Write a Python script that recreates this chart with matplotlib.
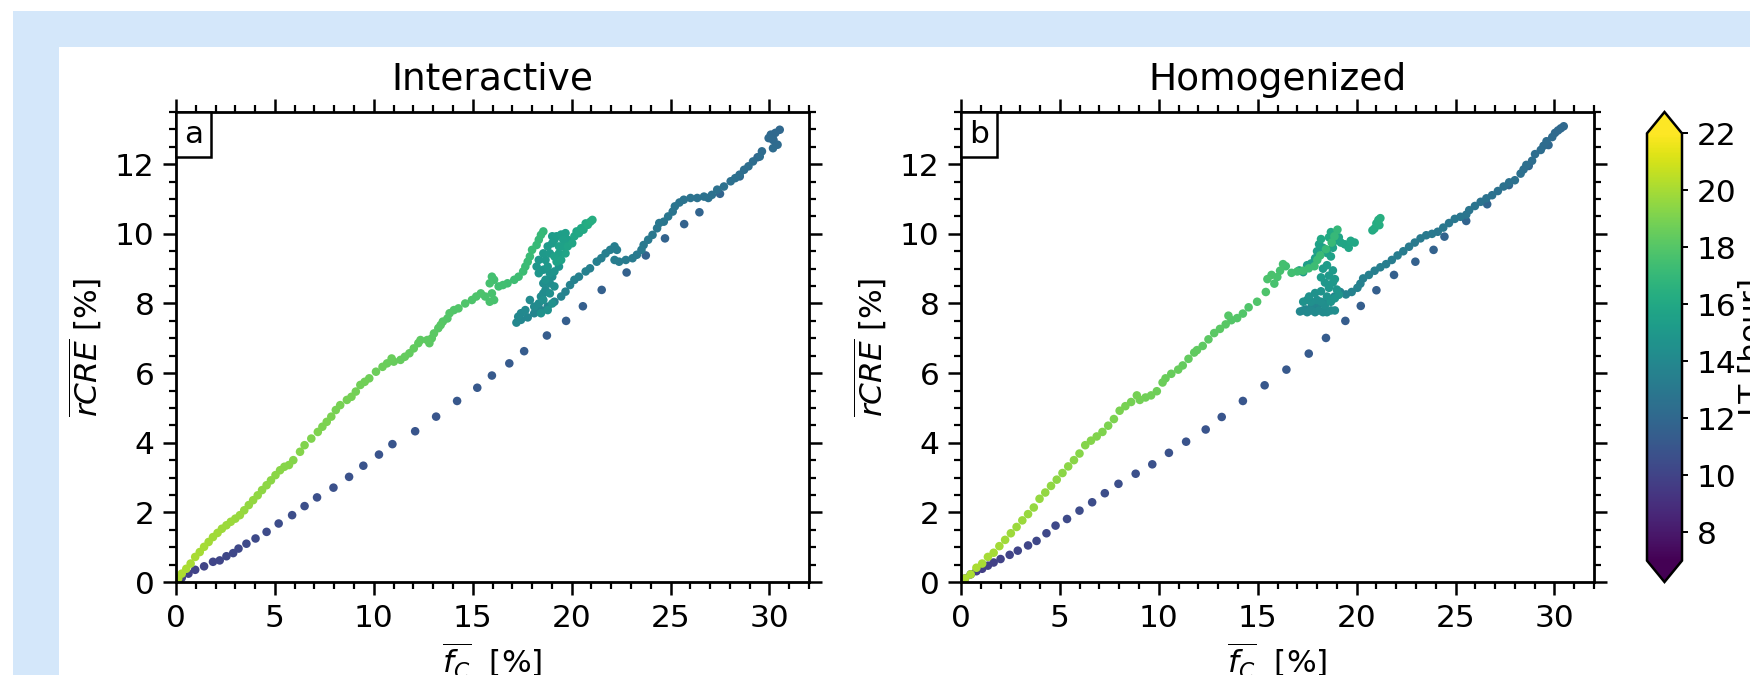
import matplotlib
matplotlib.use("Agg")
import matplotlib.pyplot as plt
from matplotlib.patches import Rectangle
from matplotlib.offsetbox import AnchoredText
from matplotlib.ticker import MultipleLocator
from matplotlib.colors import Normalize

# ---- panel a (Interactive) ----
# morning branch: straight sparse line
fc_a_up = [0.10, 0.29, 0.63, 0.97, 1.42, 1.87, 2.21, 2.55, 2.89, 3.16,
           3.56, 4.02, 4.58, 5.19, 5.87, 6.50, 7.13, 7.96, 8.75, 9.47,
           10.26, 10.94, 12.09, 13.15, 14.21, 15.23, 15.97, 16.85, 17.60, 18.75,
           19.72, 20.57, 21.52, 22.78, 23.75, 24.72, 25.69, 26.46, 27.50, 28.50,
           29.40, 30.20]
rcre_a_up = [0.02, 0.12, 0.24, 0.35, 0.45, 0.58, 0.62, 0.74, 0.83, 0.96,
             1.10, 1.25, 1.44, 1.68, 1.92, 2.18, 2.43, 2.71, 3.02, 3.34,
             3.66, 3.96, 4.33, 4.75, 5.20, 5.58, 5.93, 6.28, 6.63, 7.08,
             7.50, 7.92, 8.39, 8.89, 9.38, 9.87, 10.28, 10.62, 11.15, 11.65,
             12.20, 12.70]
lt_a_up = [9.80, 9.85, 9.90, 9.96, 10.01, 10.07, 10.12, 10.17, 10.23, 10.28,
           10.34, 10.39, 10.44, 10.50, 10.55, 10.61, 10.66, 10.71, 10.77, 10.82,
           10.88, 10.93, 10.98, 11.04, 11.09, 11.15, 11.20, 11.25, 11.31, 11.36,
           11.42, 11.47, 11.52, 11.58, 11.63, 11.69, 11.74, 11.79, 11.85, 11.90,
           11.95, 12.00]

# midday branch going back down
fc_a_dn = [30.52, 30.30, 30.07, 29.96, 30.18, 30.41, 30.18, 29.62, 29.51, 29.17,
           28.94, 28.72, 28.49, 28.27, 28.04, 27.70, 27.36, 27.09, 26.91, 26.69,
           26.35, 26.01, 25.67, 25.45, 25.22, 25.11, 24.88, 24.66, 24.43, 24.32,
           24.09, 23.87, 23.64, 23.53, 23.30, 23.08, 22.74, 22.40, 22.17, 22.29,
           22.17, 21.95, 21.72, 21.50, 21.27, 20.93, 20.71, 20.37, 20.14, 19.92,
           19.69, 19.47, 19.13, 18.79, 18.45, 18.11, 17.78, 17.44, 17.21]
rcre_a_dn = [12.99, 12.90, 12.85, 12.75, 12.70, 12.56, 12.46, 12.37, 12.22, 12.08,
             11.94, 11.84, 11.70, 11.60, 11.51, 11.36, 11.27, 11.12, 11.03, 11.07,
             11.03, 11.03, 10.98, 10.90, 10.79, 10.64, 10.50, 10.35, 10.31, 10.16,
             9.97, 9.83, 9.68, 9.54, 9.40, 9.30, 9.25, 9.20, 9.25, 9.54,
             9.64, 9.54, 9.44, 9.30, 9.20, 9.01, 8.92, 8.77, 8.68, 8.53,
             8.34, 8.20, 8.05, 7.91, 7.81, 7.72, 7.60, 7.53, 7.45]
lt_a_dn = [12.02, 12.05, 12.08, 12.12, 12.15, 12.18, 12.22, 12.25, 12.28, 12.31,
           12.35, 12.38, 12.41, 12.45, 12.48, 12.51, 12.54, 12.58, 12.61, 12.64,
           12.68, 12.71, 12.74, 12.77, 12.81, 12.84, 12.87, 12.91, 12.94, 12.97,
           13.00, 13.04, 13.07, 13.10, 13.14, 13.17, 13.20, 13.23, 13.27, 13.30,
           13.33, 13.37, 13.40, 13.43, 13.46, 13.50, 13.53, 13.56, 13.60, 13.63,
           13.66, 13.69, 13.73, 13.76, 13.79, 13.83, 13.86, 13.89, 13.92]

# afternoon cluster
fc_a_mid = [17.30, 17.44, 17.66, 17.89, 18.11, 18.34, 18.45, 18.57, 18.68, 18.57,
            18.79, 18.90, 19.02, 19.13, 18.90, 18.57, 19.02, 18.79, 18.45, 18.68,
            18.90, 19.13, 19.36, 18.57, 18.34, 18.23, 18.34, 18.79, 18.68, 18.57,
            18.90, 18.79, 19.02, 19.13, 19.02, 19.24, 19.47, 19.69, 19.80, 19.58,
            19.36, 19.58, 19.36, 19.13, 19.24, 19.47, 19.69, 19.80, 20.03, 20.14,
            20.25, 20.37, 20.48, 20.60, 20.71, 20.82, 20.95, 21.05]
rcre_a_mid = [7.62, 7.72, 7.81, 8.10, 7.91, 8.00, 8.20, 8.29, 8.39, 8.58,
              8.68, 8.58, 8.77, 8.49, 8.29, 8.10, 8.00, 7.81, 7.72, 8.68,
              8.87, 8.92, 9.06, 8.97, 8.87, 9.06, 9.25, 9.06, 9.25, 9.44,
              9.44, 9.64, 9.73, 9.83, 9.93, 9.93, 9.98, 10.02, 9.83, 9.83,
              9.64, 9.64, 9.44, 9.35, 9.20, 9.25, 9.44, 9.64, 9.73, 9.93,
              10.07, 10.02, 10.16, 10.12, 10.30, 10.26, 10.35, 10.40]
lt_a_mid = [14.00, 14.03, 14.06, 14.09, 14.12, 14.15, 14.18, 14.21, 14.24, 14.27,
            14.30, 14.33, 14.36, 14.40, 14.44, 14.48, 14.52, 14.56, 14.60, 14.65,
            14.70, 14.74, 14.78, 14.82, 14.86, 14.90, 14.94, 14.98, 15.02, 15.06,
            15.10, 15.14, 15.18, 15.22, 15.26, 15.30, 15.34, 15.38, 15.42, 15.46,
            15.50, 15.54, 15.58, 15.62, 15.66, 15.70, 15.74, 15.78, 15.82, 15.86,
            15.90, 15.96, 16.02, 16.08, 16.14, 16.20, 16.26, 16.32]

# evening branch back to zero
fc_a_gr = [18.57, 18.45, 18.34, 18.23, 18.00, 17.89, 17.78, 17.66, 17.55, 17.32,
           17.10, 16.76, 16.53, 16.31, 16.08, 15.97, 15.86, 15.97, 16.08, 15.86,
           15.63, 15.41, 15.18, 14.96, 14.62, 14.28, 14.05, 13.83, 13.72, 13.49,
           13.38, 13.26, 13.04, 12.93, 12.81, 12.70, 12.36, 12.25, 12.02, 11.80,
           11.57, 11.35, 11.01, 10.90, 10.67, 10.44, 10.11, 9.77, 9.54, 9.32,
           9.09, 8.87, 8.64, 8.30, 8.08, 7.85, 7.62, 7.40, 7.17, 6.84,
           6.50, 6.27, 5.93, 5.71, 5.48, 5.26, 5.03, 4.80, 4.58, 4.35,
           4.13, 3.90, 3.68, 3.45, 3.23, 3.00, 2.77, 2.55, 2.32, 2.10,
           1.87, 1.65, 1.42, 1.20, 0.97, 0.74, 0.52, 0.29, 0.11]
rcre_a_gr = [10.07, 9.97, 9.83, 9.68, 9.54, 9.35, 9.20, 9.06, 8.92, 8.77,
             8.68, 8.58, 8.53, 8.49, 8.68, 8.77, 8.58, 8.29, 8.10, 8.05,
             8.20, 8.29, 8.20, 8.10, 8.00, 7.86, 7.81, 7.72, 7.57, 7.48,
             7.38, 7.29, 7.14, 7.00, 6.86, 6.95, 6.95, 6.86, 6.71, 6.57,
             6.47, 6.38, 6.33, 6.42, 6.28, 6.18, 6.04, 5.85, 5.75, 5.66,
             5.47, 5.32, 5.23, 5.08, 4.94, 4.75, 4.60, 4.46, 4.31, 4.12,
             3.93, 3.74, 3.50, 3.36, 3.31, 3.21, 3.07, 2.92, 2.78, 2.64,
             2.49, 2.35, 2.21, 2.06, 1.92, 1.82, 1.73, 1.63, 1.53, 1.41,
             1.29, 1.15, 1.01, 0.86, 0.72, 0.53, 0.38, 0.24, 0.10]
lt_a_gr = [17.00, 17.04, 17.07, 17.11, 17.14, 17.18, 17.22, 17.25, 17.29, 17.32,
           17.36, 17.40, 17.43, 17.47, 17.50, 17.54, 17.58, 17.61, 17.65, 17.68,
           17.72, 17.76, 17.79, 17.83, 17.86, 17.90, 17.94, 17.97, 18.01, 18.04,
           18.08, 18.12, 18.15, 18.19, 18.22, 18.26, 18.30, 18.33, 18.37, 18.40,
           18.44, 18.48, 18.51, 18.55, 18.58, 18.62, 18.66, 18.69, 18.73, 18.76,
           18.80, 18.84, 18.87, 18.91, 18.94, 18.98, 19.02, 19.05, 19.09, 19.12,
           19.16, 19.20, 19.23, 19.27, 19.30, 19.34, 19.38, 19.41, 19.45, 19.48,
           19.52, 19.56, 19.59, 19.63, 19.66, 19.70, 19.74, 19.77, 19.81, 19.84,
           19.88, 19.92, 19.95, 19.99, 20.02, 20.06, 20.10, 20.13, 20.17]

# ---- panel b (Homogenized) ----
fc_b_up = [0.20, 0.49, 0.78, 1.07, 1.36, 1.65, 2.00, 2.46, 2.87, 3.39,
           3.82, 4.32, 4.78, 5.36, 5.99, 6.63, 7.27, 7.96, 8.83, 9.67,
           10.51, 11.38, 12.37, 13.18, 14.25, 15.35, 16.45, 17.58, 18.45, 19.43,
           20.21, 21.00, 21.89, 22.97, 23.89, 24.44, 25.54, 26.60, 27.70, 28.70,
           29.70]
rcre_b_up = [0.10, 0.22, 0.31, 0.38, 0.47, 0.56, 0.66, 0.78, 0.90, 1.05,
             1.18, 1.40, 1.62, 1.81, 2.05, 2.29, 2.55, 2.82, 3.11, 3.38,
             3.71, 4.03, 4.38, 4.74, 5.20, 5.65, 6.10, 6.56, 7.01, 7.50,
             7.93, 8.38, 8.82, 9.20, 9.54, 9.92, 10.37, 10.85, 11.40, 11.95,
             12.55]
lt_b_up = [9.60, 9.66, 9.72, 9.78, 9.84, 9.90, 9.96, 10.02, 10.08, 10.14,
           10.20, 10.26, 10.32, 10.38, 10.44, 10.50, 10.56, 10.62, 10.68, 10.74,
           10.80, 10.86, 10.92, 10.98, 11.04, 11.10, 11.16, 11.22, 11.28, 11.34,
           11.40, 11.46, 11.52, 11.58, 11.64, 11.70, 11.76, 11.82, 11.88, 11.94,
           12.00]

fc_b_dn = [30.47, 30.32, 30.18, 30.03, 29.89, 29.60, 29.45, 29.31, 29.02, 28.87,
           28.58, 28.44, 28.29, 28.00, 27.71, 27.43, 27.14, 26.85, 26.56, 26.27,
           25.98, 25.69, 25.54, 25.25, 24.96, 24.67, 24.38, 24.10, 23.81, 23.52,
           23.23, 22.94, 22.65, 22.36, 22.07, 21.78, 21.49, 21.20, 20.91, 20.62,
           20.33, 20.19, 20.04, 19.75, 19.46, 19.17, 18.88, 18.59, 18.30, 18.01,
           17.72, 17.43, 17.14]
rcre_b_dn = [13.09, 13.03, 12.97, 12.90, 12.78, 12.66, 12.53, 12.41, 12.29, 12.10,
             11.98, 11.85, 11.73, 11.54, 11.48, 11.36, 11.23, 11.11, 11.02, 10.92,
             10.80, 10.68, 10.55, 10.49, 10.43, 10.31, 10.18, 10.06, 10.00, 9.96,
             9.87, 9.75, 9.63, 9.50, 9.38, 9.25, 9.13, 9.04, 8.94, 8.82,
             8.72, 8.57, 8.45, 8.33, 8.26, 8.33, 8.20, 8.08, 8.02, 7.96,
             7.89, 7.83, 7.77]
lt_b_dn = [12.04, 12.07, 12.11, 12.15, 12.18, 12.22, 12.26, 12.29, 12.33, 12.37,
           12.40, 12.44, 12.48, 12.51, 12.55, 12.59, 12.62, 12.66, 12.70, 12.73,
           12.77, 12.81, 12.84, 12.88, 12.92, 12.95, 12.99, 13.03, 13.06, 13.10,
           13.14, 13.17, 13.21, 13.25, 13.28, 13.32, 13.36, 13.39, 13.43, 13.47,
           13.50, 13.54, 13.58, 13.61, 13.65, 13.69, 13.72, 13.76, 13.80, 13.83,
           13.87, 13.91, 13.94]

fc_b_mid = [17.30, 17.50, 17.70, 17.90, 18.10, 18.30, 18.50, 18.70, 18.90, 18.40,
            18.20, 18.00, 17.70, 17.50, 17.30, 17.60, 17.90, 18.20, 18.50, 18.70,
            18.90, 19.10, 19.00, 18.60, 18.40, 18.80, 18.90, 18.60, 18.80, 18.20,
            18.30, 18.50, 17.10, 17.30, 17.50, 17.70, 17.90, 18.00, 18.10, 18.30,
            18.50, 18.70, 18.80, 18.90, 19.10, 19.20, 19.40, 19.60, 19.70, 19.90,
            18.20, 18.60, 18.70, 20.80, 20.90, 21.00, 21.15, 21.10, 21.20]
rcre_b_mid = [7.80, 7.75, 7.80, 7.75, 7.80, 7.75, 7.75, 7.80, 7.80, 7.95,
              8.05, 8.10, 8.05, 8.10, 8.05, 8.20, 8.30, 8.35, 8.20, 8.05,
              8.15, 8.25, 8.40, 8.45, 8.60, 8.60, 8.70, 8.80, 8.95, 8.75,
              9.00, 9.10, 8.95, 8.90, 9.10, 9.15, 9.30, 9.50, 9.70, 9.60,
              9.45, 9.35, 9.60, 9.80, 9.90, 9.75, 9.70, 9.60, 9.80, 9.75,
              9.85, 9.90, 10.05, 10.10, 10.15, 10.30, 10.25, 10.40, 10.45]
lt_b_mid = [14.00, 14.04, 14.08, 14.12, 14.16, 14.20, 14.24, 14.28, 14.32, 14.36,
            14.40, 14.44, 14.48, 14.52, 14.56, 14.60, 14.64, 14.68, 14.72, 14.76,
            14.80, 14.84, 14.88, 14.92, 14.96, 15.00, 15.04, 15.08, 15.12, 15.16,
            15.20, 15.24, 15.28, 15.32, 15.36, 15.40, 15.44, 15.48, 15.52, 15.56,
            15.60, 15.64, 15.68, 15.72, 15.76, 15.80, 15.84, 15.88, 15.92, 15.96,
            16.00, 16.04, 16.08, 16.12, 16.16, 16.20, 16.26, 16.32, 16.38]

fc_b_gr = [19.03, 18.88, 18.74, 18.45, 18.16, 18.01, 17.87, 17.58, 17.29, 17.00,
           16.71, 16.42, 16.28, 16.13, 15.99, 15.84, 15.70, 15.49, 15.41, 14.97,
           14.54, 14.25, 13.96, 13.67, 13.52, 13.38, 13.09, 12.80, 12.51, 12.22,
           11.93, 11.79, 11.50, 11.21, 10.98, 10.63, 10.34, 10.19, 9.90, 9.61,
           9.33, 9.04, 8.89, 8.60, 8.31, 8.02, 7.73, 7.44, 7.15, 6.86,
           6.57, 6.28, 5.99, 5.71, 5.42, 5.13, 4.84, 4.55, 4.26, 3.97,
           3.68, 3.39, 3.10, 2.81, 2.52, 2.23, 1.94, 1.65, 1.36, 1.07,
           0.78, 0.49, 0.20]
rcre_b_gr = [10.12, 9.93, 9.75, 9.56, 9.38, 9.25, 9.07, 9.01, 8.94, 8.92,
             8.88, 9.07, 9.13, 8.94, 8.76, 8.57, 8.82, 8.70, 8.33, 8.05,
             7.89, 7.71, 7.58, 7.52, 7.65, 7.40, 7.27, 7.15, 6.97, 6.78,
             6.66, 6.59, 6.41, 6.22, 6.10, 5.98, 5.85, 5.73, 5.48, 5.36,
             5.30, 5.23, 5.36, 5.17, 5.05, 4.92, 4.68, 4.49, 4.31, 4.18,
             4.06, 3.93, 3.69, 3.50, 3.32, 3.13, 2.94, 2.76, 2.57, 2.39,
             2.14, 1.95, 1.77, 1.58, 1.40, 1.21, 1.03, 0.84, 0.72, 0.53,
             0.41, 0.22, 0.10]
lt_b_gr = [17.00, 17.04, 17.09, 17.13, 17.18, 17.22, 17.26, 17.31, 17.35, 17.40,
           17.44, 17.48, 17.53, 17.57, 17.62, 17.66, 17.70, 17.75, 17.79, 17.84,
           17.88, 17.92, 17.97, 18.01, 18.06, 18.10, 18.14, 18.19, 18.23, 18.28,
           18.32, 18.36, 18.41, 18.45, 18.50, 18.54, 18.58, 18.63, 18.67, 18.72,
           18.76, 18.80, 18.85, 18.89, 18.94, 18.98, 19.02, 19.07, 19.11, 19.16,
           19.20, 19.24, 19.29, 19.33, 19.38, 19.42, 19.46, 19.51, 19.55, 19.60,
           19.64, 19.68, 19.73, 19.77, 19.82, 19.86, 19.90, 19.95, 19.99, 20.04,
           20.08, 20.12, 20.17]

cbar_ticks = [8, 10, 12, 14, 16, 18, 20, 22]
titles = ["Interactive", "Homogenized"]
letters = ["a", "b"]

FS = 22.5
BLUE = "#d4e7fa"

plt.rcParams["font.family"] = ["DejaVu Sans"]
plt.rcParams["mathtext.fontset"] = "dejavusans"

fig = plt.figure(figsize=(17.5, 6.75), dpi=100)
fig.patch.set_facecolor("white")
# page background (light blue frame) and the white figure card
fig.add_artist(Rectangle((13 / 1750, 0), 1, 664 / 675, transform=fig.transFigure,
                         fc=BLUE, ec="none", zorder=-20))
fig.add_artist(Rectangle((59 / 1750, 0), 1, 628 / 675, transform=fig.transFigure,
                         fc="white", ec="none", zorder=-19))

norm = Normalize(vmin=7, vmax=22)
panels = [
    (fc_a_up + fc_a_dn + fc_a_mid + fc_a_gr,
     rcre_a_up + rcre_a_dn + rcre_a_mid + rcre_a_gr,
     lt_a_up + lt_a_dn + lt_a_mid + lt_a_gr),
    (fc_b_up + fc_b_dn + fc_b_mid + fc_b_gr,
     rcre_b_up + rcre_b_dn + rcre_b_mid + rcre_b_gr,
     lt_b_up + lt_b_dn + lt_b_mid + lt_b_gr),
]

lefts = [176 / 1750, 961 / 1750]
bottom, height, width = 93 / 675, 470 / 675, 633 / 1750

sc = None
for i, (fc, rcre, lt) in enumerate(panels):
    ax = fig.add_axes([lefts[i], bottom, width, height])
    sc = ax.scatter(fc, rcre, c=lt, cmap="viridis", norm=norm, s=38,
                    edgecolors="none")
    ax.set_xlim(0, 32)
    ax.set_ylim(0, 13.5)
    ax.xaxis.set_major_locator(MultipleLocator(5))
    ax.xaxis.set_minor_locator(MultipleLocator(1))
    ax.yaxis.set_major_locator(MultipleLocator(2))
    ax.yaxis.set_minor_locator(MultipleLocator(0.5))
    ax.tick_params(which="both", direction="out", top=True, right=True,
                   labelsize=FS, pad=6)
    ax.tick_params(which="major", length=9.5, width=1.8)
    ax.tick_params(which="minor", length=5, width=1.6)
    for sp in ax.spines.values():
        sp.set_linewidth(2.0)
    ax.set_title(titles[i], fontsize=27, pad=16)
    ax.set_xlabel(r"$\overline{f_C}$  [%]", fontsize=FS, labelpad=6)
    ax.set_ylabel(r"$\overline{rCRE}$ [%]", fontsize=FS, labelpad=8)
    at = AnchoredText(letters[i], loc="upper left", prop=dict(size=FS),
                      frameon=True, pad=0.26, borderpad=0.0)
    at.patch.set_linewidth(1.8)
    at.patch.set_boxstyle("square,pad=0")
    ax.add_artist(at)

cax = fig.add_axes([1647 / 1750, bottom, 35 / 1750, height])
cbar = fig.colorbar(sc, cax=cax, extend="both", ticks=cbar_ticks)
cbar.outline.set_linewidth(1.8)
cbar.ax.tick_params(labelsize=FS, length=4.5, width=1.4, pad=6)
cbar.set_label("LT [hour]", fontsize=FS, labelpad=1)

fig.savefig("out.png", dpi=100)
